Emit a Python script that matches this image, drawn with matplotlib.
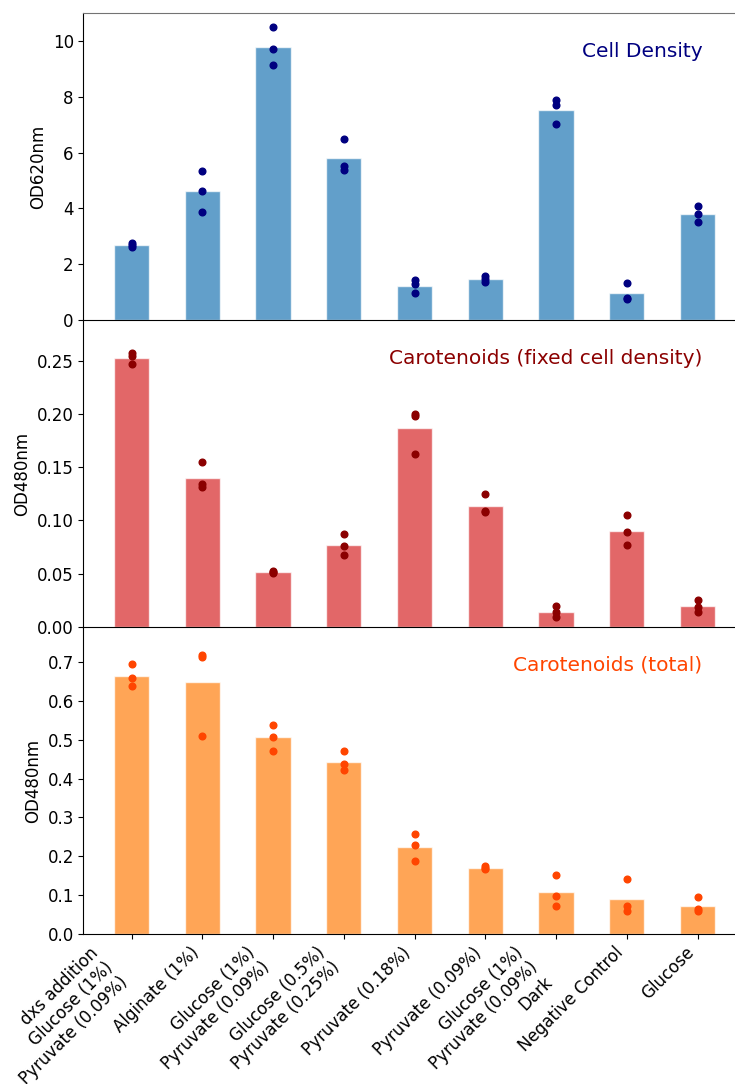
import numpy as np
import matplotlib
matplotlib.use("Agg")
import matplotlib.pyplot as plt

# ----------------------------
# culture conditions
# ----------------------------
conditions = [
    "dxs addition\nGlucose (1%)\nPyruvate (0.09%)",
    "Alginate (1%)",
    "Glucose (1%)\nPyruvate (0.09%)",
    "Glucose (0.5%)\nPyruvate (0.25%)",
    "Pyruvate (0.18%)",
    "Pyruvate (0.09%)",
    "Glucose (1%)\nPyruvate (0.09%)\nDark",
    "Negative Control",
    "Glucose",
]

# replicate measurements (3 per condition)
od620 = [
    [2.75, 2.68, 2.60],
    [5.34, 4.61, 3.87],
    [10.49, 9.70, 9.14],
    [6.48, 5.53, 5.38],
    [1.42, 1.30, 0.95],
    [1.58, 1.48, 1.36],
    [7.89, 7.70, 7.01],
    [1.34, 0.80, 0.74],
    [4.09, 3.80, 3.51],
]
od480_fixed = [
    [0.257, 0.254, 0.247],
    [0.155, 0.134, 0.131],
    [0.0525, 0.0515, 0.051],
    [0.0874, 0.0761, 0.0673],
    [0.200, 0.198, 0.1623],
    [0.1252, 0.1088, 0.1079],
    [0.0198, 0.0142, 0.0094],
    [0.1054, 0.0890, 0.0771],
    [0.0255, 0.0186, 0.0142],
]
od480_total = [
    [0.695, 0.660, 0.637],
    [0.718, 0.714, 0.510],
    [0.538, 0.508, 0.471],
    [0.470, 0.437, 0.423],
    [0.257, 0.229, 0.189],
    [0.174, 0.170, 0.166],
    [0.152, 0.099, 0.071],
    [0.142, 0.072, 0.058],
    [0.096, 0.065, 0.058],
]

panels = [
    (od620, "OD620nm", "Cell Density", "tab:blue", "navy", 11.0),
    (od480_fixed, "OD480nm", "Carotenoids (fixed cell density)", "tab:red", "darkred", 0.288),
    (od480_total, "OD480nm", "Carotenoids (total)", "tab:orange", "orangered", 0.79),
]

plt.rcParams["font.size"] = 12

fig = plt.figure(figsize=(7.35, 10.84), dpi=100)
x = np.arange(len(conditions))

left, width = 0.1136, 1.0 - 0.1136
top, h = 0.988, 0.2832
for k, (reps, ylabel, title, bar_c, dot_c, ymax) in enumerate(panels):
    ax = fig.add_axes([left, top - (k + 1) * h, width, h])
    ax.patch.set_visible(False)  # keep the spine of the panel above visible
    reps = np.array(reps)
    # bar = mean of replicates, dots = single replicates
    ax.bar(x, reps.mean(axis=1), width=0.5, color=bar_c, alpha=0.7,
           edgecolor="white", linewidth=1)
    for i in range(len(conditions)):
        ax.plot([i] * reps.shape[1], reps[i], "o", color=dot_c, ms=4.8,
                linestyle="none")
    ax.set_xlim(-0.68, 8.53)
    ax.set_ylim(0, ymax)
    ax.set_ylabel(ylabel)
    ax.text(0.95, 0.875, title, transform=ax.transAxes, ha="right",
            va="center", color=dot_c, fontsize=14.5)
    ax.spines["right"].set_visible(False)
    if k == 0:
        ax.spines["top"].set_color("0.45")
    else:
        ax.spines["top"].set_visible(False)
    ax.set_xticks(x)
    if k < 2:
        ax.tick_params(axis="x", bottom=False, labelbottom=False)
    else:
        ax.set_xticklabels(conditions, rotation=45, ha="right")

fig.savefig("out.png", dpi=100, facecolor="white")
